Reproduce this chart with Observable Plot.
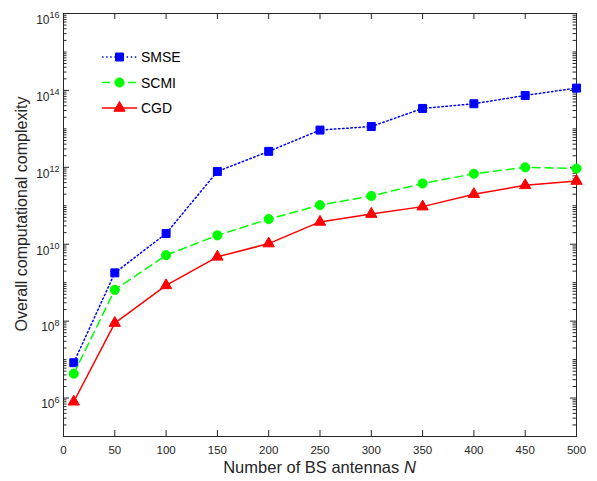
<!DOCTYPE html>
<html><head><meta charset="utf-8">
<script src="https://cdn.jsdelivr.net/npm/d3@7"></script>
<script src="https://cdn.jsdelivr.net/npm/@observablehq/plot@0.6"></script>
<style>body{margin:0;background:#fff} svg{display:block}</style>
</head><body><div id="chart"></div>
<script>
// ---- data ----
const antennas = [10, 50, 100, 150, 200, 250, 300, 350, 400, 450, 500];
const smse = [8.3e6, 1.8e9, 1.9e10, 7.8e11, 2.6e12, 9.3e12, 1.15e13, 3.4e13, 4.5e13, 7.4e13, 1.15e14];
const scmi = [4.3e6, 6.5e8, 5.2e9, 1.7e10, 4.5e10, 1.04e11, 1.8e11, 3.8e11, 6.8e11, 1.0e12, 9.3e11];
const cgd  = [8e5, 8.9e7, 8.5e8, 4.7e9, 1.04e10, 3.8e10, 6.1e10, 9.5e10, 2.0e11, 3.4e11, 4.4e11];
const seriesNames = ["SMSE", "SCMI", "CGD"];
const xTicks = [0, 50, 100, 150, 200, 250, 300, 350, 400, 450, 500];
const yMajorExps = [6, 8, 10, 12, 14, 16];
const yMinorExps = [5, 6, 7, 8, 9, 10, 11, 12, 13, 14, 15];
const xLabel = "Number of BS antennas ";
const xLabelVar = "N";
const yLabel = "Overall computational complexity";

// ---- styles ----
const styles = {
  SMSE: {color: "#0000ff", dash: "1.5,2.6", symbol: "square", r: 4.5},
  SCMI: {color: "#00ff00", dash: "8,5", symbol: "circle", r: 4.6},
  CGD:  {color: "#ff0000", dash: null, symbol: "triangle", r: 4.2}
};
const axisColor = "#262626";
const W = 597, H = 481, mL = 63, mR = 21, mT = 13, mB = 45;
const innerW = W - mL - mR, innerH = H - mT - mB;

const values = {SMSE: smse, SCMI: scmi, CGD: cgd};
const rows = seriesNames.flatMap(s => antennas.map((n, i) => ({series: s, n, v: values[s][i]})));
const yMajor = yMajorExps.map(e => Math.pow(10, e));
const yMinor = yMinorExps.flatMap(e => d3.range(1, 10).map(k => k * Math.pow(10, e)))
  .filter(v => !yMajor.some(m => Math.abs(m - v) / m < 1e-9) && v <= 1e16);

const seriesMarks = seriesNames.flatMap(s => {
  const st = styles[s];
  const d = rows.filter(r => r.series === s);
  return [
    Plot.line(d, {x: "n", y: "v", stroke: st.color, strokeWidth: 1.5, strokeDasharray: st.dash}),
    Plot.dot(d, {x: "n", y: "v", symbol: () => st.symbol, r: st.r, fill: st.color, stroke: st.color, strokeWidth: 1})
  ];
});

const plot = Plot.plot({
  width: W, height: H,
  marginLeft: mL, marginRight: mR, marginTop: mT, marginBottom: mB,
  style: {fontFamily: "'Liberation Sans', Arial, sans-serif", fontSize: "11.5px", color: axisColor, background: "white"},
  x: {domain: [0, 500]},
  y: {type: "log", domain: [1e5, 1e16]},
  symbol: {type: "identity"},
  marks: [
    Plot.axisX({ticks: xTicks, tickSize: 0, tickPadding: 9, label: null, fontSize: 11.5, tickFormat: d => String(d)}),
    Plot.axisY({ticks: yMajor, tickSize: 0, tickPadding: 4, label: null, fontSize: 12,
      tickFormat: d => "10^" + Math.round(Math.log10(d))}),
    Plot.tickX(xTicks, {x: d => d, insetTop: innerH - 6, stroke: axisColor}),
    Plot.tickX(xTicks, {x: d => d, insetBottom: innerH - 6, stroke: axisColor}),
    Plot.tickY(yMajor, {y: d => d, insetRight: innerW - 6, stroke: axisColor}),
    Plot.tickY(yMajor, {y: d => d, insetLeft: innerW - 6, stroke: axisColor}),
    Plot.tickY(yMinor, {y: d => d, insetRight: innerW - 3.5, stroke: axisColor}),
    Plot.tickY(yMinor, {y: d => d, insetLeft: innerW - 3.5, stroke: axisColor}),
    Plot.frame({stroke: axisColor, strokeWidth: 1}),
    ...seriesMarks
  ]
});

const svg = d3.select(plot);
// superscript tick labels
svg.selectAll('g[aria-label="y-axis tick label"] text').each(function() {
  const t = d3.select(this);
  const parts = t.text().split("^");
  t.text(parts[0]).attr("dy", 6.5);
  t.append("tspan").attr("dy", -5.5).attr("font-size", 9).text(parts[1]);
});

const ff = "'Liberation Sans', Arial, sans-serif";
// axis labels
const xl = svg.append("text").attr("x", mL + innerW / 2).attr("y", 473)
  .attr("text-anchor", "middle").attr("font-family", ff).attr("font-size", 16.5).attr("fill", axisColor)
  .text(xLabel);
xl.append("tspan").attr("font-style", "italic").text(xLabelVar);
svg.append("text").attr("transform", "translate(26.5,214) rotate(-90)")
  .attr("text-anchor", "middle").attr("font-family", ff).attr("font-size", 16).attr("fill", axisColor)
  .text(yLabel);

// legend
const legY = [57, 82.5, 108];
const lg = svg.append("g");
seriesNames.forEach((s, i) => {
  const st = styles[s];
  const y = legY[i];
  lg.append("line").attr("x1", 102).attr("x2", 137).attr("y1", y).attr("y2", y)
    .attr("stroke", st.color).attr("stroke-width", 1.5).attr("stroke-dasharray", st.dash);
  const sym = {square: d3.symbolSquare, circle: d3.symbolCircle, triangle: d3.symbolTriangle}[st.symbol];
  lg.append("path").attr("transform", `translate(119.5,${y})`)
    .attr("d", d3.symbol(sym, st.r * st.r * Math.PI)())
    .attr("fill", st.color).attr("stroke", st.color);
  lg.append("text").attr("x", 141).attr("y", y).attr("dy", "0.36em").attr("text-anchor", "start")
    .attr("font-family", ff).attr("font-size", 14).attr("fill", "#000").text(s);
});

document.getElementById("chart").appendChild(plot);
</script>
</body></html>
